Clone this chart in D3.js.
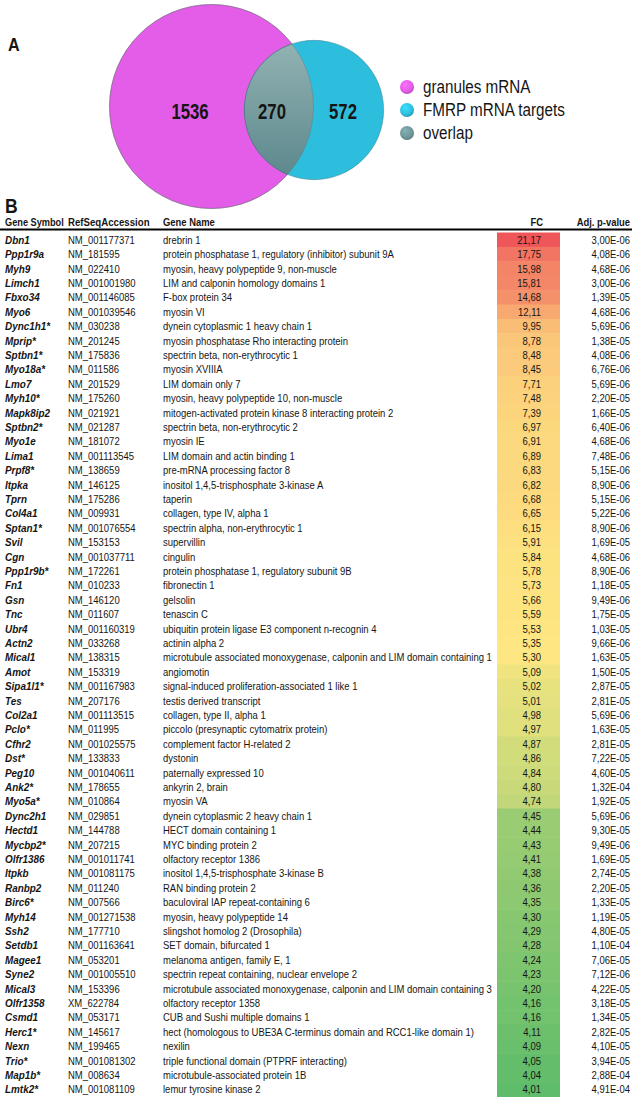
<!DOCTYPE html>
<html>
<head>
<meta charset="utf-8">
<script src="https://cdn.jsdelivr.net/npm/d3@7.9.0/dist/d3.min.js"></script>
<style>
  html, body { margin: 0; padding: 0; background: #fff; }
  svg { display: block; }
  text { font-family: "Liberation Sans", Arial, sans-serif; fill: #151515; }
</style>
</head>
<body>
<svg id="fig" width="634" height="1101"></svg>
<script>
/* ------------------------------- Data ------------------------------- */
const vennCounts = [1536, 270, 572];               // granules only, overlap, FMRP only
const vennLabels = ["granules mRNA", "FMRP mRNA targets", "overlap"];
const vennColors = ["#e35de8", "#2ebedd", "#6f9799"];

const headers = ["Gene Symbol", "RefSeqAccession", "Gene Name", "FC", "Adj. p-value"];

const symbols = ["Dbn1","Ppp1r9a","Myh9","Limch1","Fbxo34","Myo6","Dync1h1*","Mprip*","Sptbn1*","Myo18a*",
  "Lmo7","Myh10*","Mapk8ip2","Sptbn2*","Myo1e","Lima1","Prpf8*","Itpka","Tprn","Col4a1",
  "Sptan1*","Svil","Cgn","Ppp1r9b*","Fn1","Gsn","Tnc","Ubr4","Actn2","Mical1",
  "Amot","Sipa1l1*","Tes","Col2a1","Pclo*","Cfhr2","Dst*","Peg10","Ank2*","Myo5a*",
  "Dync2h1","Hectd1","Mycbp2*","Olfr1386","Itpkb","Ranbp2","Birc6*","Myh14","Ssh2","Setdb1",
  "Magee1","Syne2","Mical3","Olfr1358","Csmd1","Herc1*","Nexn","Trio*","Map1b*","Lmtk2*"];

const accessions = ["NM_001177371","NM_181595","NM_022410","NM_001001980","NM_001146085","NM_001039546","NM_030238","NM_201245","NM_175836","NM_011586",
  "NM_201529","NM_175260","NM_021921","NM_021287","NM_181072","NM_001113545","NM_138659","NM_146125","NM_175286","NM_009931",
  "NM_001076554","NM_153153","NM_001037711","NM_172261","NM_010233","NM_146120","NM_011607","NM_001160319","NM_033268","NM_138315",
  "NM_153319","NM_001167983","NM_207176","NM_001113515","NM_011995","NM_001025575","NM_133833","NM_001040611","NM_178655","NM_010864",
  "NM_029851","NM_144788","NM_207215","NM_001011741","NM_001081175","NM_011240","NM_007566","NM_001271538","NM_177710","NM_001163641",
  "NM_053201","NM_001005510","NM_153396","XM_622784","NM_053171","NM_145617","NM_199465","NM_001081302","NM_008634","NM_001081109"];

const geneNames = ["drebrin 1","protein phosphatase 1, regulatory (inhibitor) subunit 9A","myosin, heavy polypeptide 9, non-muscle","LIM and calponin homology domains 1","F-box protein 34","myosin VI","dynein cytoplasmic 1 heavy chain 1","myosin phosphatase Rho interacting protein","spectrin beta, non-erythrocytic 1","myosin XVIIIA",
  "LIM domain only 7","myosin, heavy polypeptide 10, non-muscle","mitogen-activated protein kinase 8 interacting protein 2","spectrin beta, non-erythrocytic 2","myosin IE","LIM domain and actin binding 1","pre-mRNA processing factor 8","inositol 1,4,5-trisphosphate 3-kinase A","taperin","collagen, type IV, alpha 1",
  "spectrin alpha, non-erythrocytic 1","supervillin","cingulin","protein phosphatase 1, regulatory subunit 9B","fibronectin 1","gelsolin","tenascin C","ubiquitin protein ligase E3 component n-recognin 4","actinin alpha 2","microtubule associated monoxygenase, calponin and LIM domain containing 1",
  "angiomotin","signal-induced proliferation-associated 1 like 1","testis derived transcript","collagen, type II, alpha 1","piccolo (presynaptic cytomatrix protein)","complement factor H-related 2","dystonin","paternally expressed 10","ankyrin 2, brain","myosin VA",
  "dynein cytoplasmic 2 heavy chain 1","HECT domain containing 1","MYC binding protein 2","olfactory receptor 1386","inositol 1,4,5-trisphosphate 3-kinase B","RAN binding protein 2","baculoviral IAP repeat-containing 6","myosin, heavy polypeptide 14","slingshot homolog 2 (Drosophila)","SET domain, bifurcated 1",
  "melanoma antigen, family E, 1","spectrin repeat containing, nuclear envelope 2","microtubule associated monoxygenase, calponin and LIM domain containing 3","olfactory receptor 1358","CUB and Sushi multiple domains 1","hect (homologous to UBE3A C-terminus domain and RCC1-like domain 1)","nexilin","triple functional domain (PTPRF interacting)","microtubule-associated protein 1B","lemur tyrosine kinase 2"];

const fcValues = [21.17,17.75,15.98,15.81,14.68,12.11,9.95,8.78,8.48,8.45,
  7.71,7.48,7.39,6.97,6.91,6.89,6.83,6.82,6.68,6.65,
  6.15,5.91,5.84,5.78,5.73,5.66,5.59,5.53,5.35,5.30,
  5.09,5.02,5.01,4.98,4.97,4.87,4.86,4.84,4.80,4.74,
  4.45,4.44,4.43,4.41,4.38,4.36,4.35,4.30,4.29,4.28,
  4.24,4.23,4.20,4.16,4.16,4.11,4.09,4.05,4.04,4.01];

const pValues = ["3,00E-06","4,08E-06","4,68E-06","3,00E-06","1,39E-05","4,68E-06","5,69E-06","1,38E-05","4,08E-06","6,76E-06",
  "5,69E-06","2,20E-05","1,66E-05","6,40E-06","4,68E-06","7,48E-06","5,15E-06","8,90E-06","5,15E-06","5,22E-06",
  "8,90E-06","1,69E-05","4,68E-06","8,90E-06","1,18E-05","9,49E-06","1,75E-05","1,03E-05","9,66E-06","1,63E-05",
  "1,50E-05","2,87E-05","2,81E-05","5,69E-06","1,63E-05","2,81E-05","7,22E-05","4,60E-05","1,32E-04","1,92E-05",
  "5,69E-06","9,30E-05","9,49E-06","1,69E-05","2,74E-05","2,20E-05","1,33E-05","1,19E-05","4,80E-05","1,10E-04",
  "7,06E-05","7,12E-06","4,22E-05","3,18E-05","1,34E-05","2,82E-05","4,10E-05","3,94E-05","2,88E-04","4,91E-04"];

/* ------------------------------- Setup ------------------------------- */
const svg = d3.select("#fig");
const defs = svg.append("defs");
const fmtFC = (v) => v.toFixed(2).replace(".", ",");

// no narrow font installed -> squeeze regular Liberation Sans horizontally
function place(sel, x, y, sx) {
  return sel.attr("x", 0).attr("y", 0)
    .attr("transform", (d, i) => {
      const xx = typeof x === "function" ? x(d, i) : x;
      const yy = typeof y === "function" ? y(d, i) : y;
      return `translate(${xx},${yy}) scale(${sx},1)`;
    });
}

/* ------------------------------ Panel A ------------------------------ */
place(svg.append("text").attr("font-size", 19).attr("font-weight", "bold").text("A"), 8, 51, 0.85);

const setSizes = [vennCounts[0] + vennCounts[1], vennCounts[2] + vennCounts[1]];
const rScale = d3.scaleSqrt().domain([0, d3.max(setSizes)]).range([0, 102]);
const centers = [[211.5, 106.5], [314, 110]];

// overlap gradient
const og = defs.append("linearGradient").attr("id", "ovl").attr("x1", 0).attr("y1", 0).attr("x2", 0).attr("y2", 1);
og.append("stop").attr("offset", "0%").attr("stop-color", "#93b3b3");
og.append("stop").attr("offset", "100%").attr("stop-color", "#5b878c");

defs.append("clipPath").attr("id", "clipA")
  .append("circle").attr("cx", centers[0][0]).attr("cy", centers[0][1]).attr("r", rScale(setSizes[0]));

const venn = svg.append("g");
venn.append("circle").attr("cx", centers[0][0]).attr("cy", centers[0][1]).attr("r", rScale(setSizes[0]))
  .attr("fill", vennColors[0]).attr("stroke", "#8c5a8f").attr("stroke-opacity", 0.55).attr("stroke-width", 1);
venn.append("circle").attr("cx", centers[1][0]).attr("cy", centers[1][1]).attr("r", rScale(setSizes[1]))
  .attr("fill", vennColors[1]).attr("stroke", "#3d7d8c").attr("stroke-opacity", 0.5).attr("stroke-width", 1);
venn.append("circle").attr("clip-path", "url(#clipA)")
  .attr("cx", centers[1][0]).attr("cy", centers[1][1]).attr("r", rScale(setSizes[1]))
  .attr("fill", "url(#ovl)").attr("stroke", "#4f6f72").attr("stroke-opacity", 0.6).attr("stroke-width", 1);
venn.append("circle").attr("cx", centers[0][0]).attr("cy", centers[0][1]).attr("r", rScale(setSizes[0]))
  .attr("fill", "none").attr("stroke", "#5f6f70").attr("stroke-opacity", 0.35).attr("stroke-width", 1);

const numX = [190, 272, 343];
place(venn.selectAll("text.num").data(vennCounts).join("text")
  .attr("class", "num")
  .attr("text-anchor", "middle").attr("font-size", 22).attr("font-weight", "bold")
  .text((d) => d), (d, i) => numX[i], 119, 0.76);

// legend
vennColors.forEach((c, i) => {
  const g = defs.append("radialGradient").attr("id", "lg" + i)
    .attr("cx", "45%").attr("cy", "40%").attr("r", "60%").attr("fx", "35%").attr("fy", "30%");
  g.append("stop").attr("offset", "0%").attr("stop-color", d3.color(c).brighter(0.5));
  g.append("stop").attr("offset", "75%").attr("stop-color", c);
  g.append("stop").attr("offset", "100%").attr("stop-color", d3.color(c).darker(0.6));
});
const legend = svg.append("g").attr("transform", "translate(407,87)");
const li = legend.selectAll("g").data(vennLabels).join("g")
  .attr("transform", (d, i) => `translate(0,${i * 23})`);
li.append("circle").attr("r", 7).attr("fill", (d, i) => `url(#lg${i})`);
place(li.append("text").attr("font-size", 17.5).text((d) => d), 16, 6, 0.87);

/* ------------------------------ Panel B ------------------------------ */
place(svg.append("text").attr("font-size", 20).attr("font-weight", "bold").text("B"), 5, 213, 0.88);

const colX = { sym: 5, acc: 68, name: 163, fc: 541, p: 630 };
const band = { x0: 497, x1: 560 };
const FS = 11;

// horizontal squeeze for body text: fit the longest gene name to its width in the figure
const probe = svg.append("text").attr("font-size", FS).text(geneNames[29]);
const bodySx = 329 / probe.node().getComputedTextLength();
probe.remove();

const head = svg.append("g").attr("font-weight", "bold").attr("font-size", 11.5);
place(head.append("text").text(headers[0]), colX.sym, 226, 0.8);
place(head.append("text").text(headers[1]), colX.acc, 226, 0.84);
place(head.append("text").text(headers[2]), colX.name, 226, 0.82);
place(head.append("text").attr("text-anchor", "end").text(headers[3]), colX.fc + 2, 226, 0.82);
place(head.append("text").attr("text-anchor", "end").text(headers[4]), colX.p, 226, 0.82);

svg.append("line").attr("x1", 0).attr("x2", 632).attr("y1", 229.5).attr("y2", 229.5)
  .attr("stroke", "#000").attr("stroke-width", 2);

const y = d3.scaleBand().domain(d3.range(symbols.length)).range([232.5, 1096.5]);
const color = d3.scaleLinear()
  .domain([d3.min(fcValues), d3.median(fcValues), d3.max(fcValues)])
  .range(["#5fbc6a", "#fee882", "#ee5659"])
  .interpolate(d3.interpolateRgb);

const rows = svg.append("g").selectAll("g").data(symbols).join("g")
  .attr("transform", (d, i) => `translate(0,${y(i)})`);

rows.append("rect").attr("x", band.x0).attr("width", band.x1 - band.x0)
  .attr("y", 0).attr("height", y.bandwidth() + 0.5)
  .attr("fill", (d, i) => color(fcValues[i]));

const ty = y.bandwidth() / 2 + 4;
place(rows.append("text").attr("font-size", FS + 0.5)
  .attr("font-weight", "bold").attr("font-style", "italic").text((d) => d), colX.sym, ty, bodySx);
place(rows.append("text").attr("font-size", FS).text((d, i) => accessions[i]), colX.acc, ty, bodySx);
place(rows.append("text").attr("font-size", FS).text((d, i) => geneNames[i]), colX.name, ty, bodySx);
place(rows.append("text").attr("font-size", FS).attr("text-anchor", "end")
  .text((d, i) => fmtFC(fcValues[i])), colX.fc, ty, bodySx);
place(rows.append("text").attr("font-size", FS).attr("text-anchor", "end")
  .text((d, i) => pValues[i]), colX.p, ty, bodySx);
</script>
</body>
</html>
